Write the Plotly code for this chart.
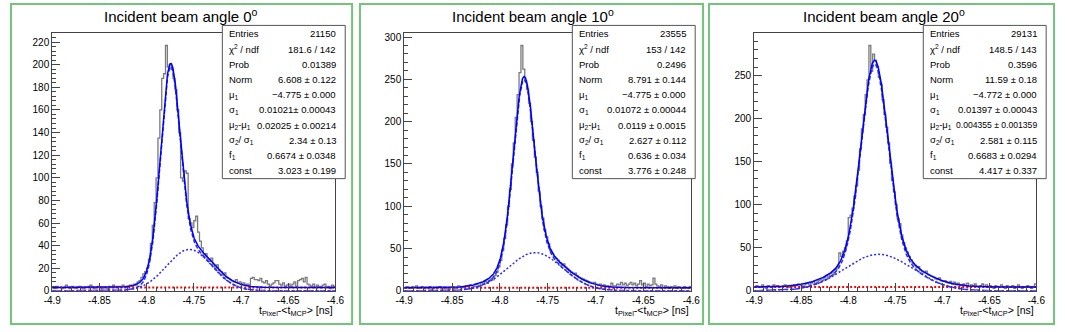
import numpy as np
import plotly.graph_objects as go

# ---------------- data ----------------
panel_titles = ["Incident beam angle 0<sup>o</sup>",
                "Incident beam angle 10<sup>o</sup>",
                "Incident beam angle 20<sup>o</sup>"]

x_low, x_high, n_bins = -4.9, -4.6, 150

counts_0deg = [
    3, 2, 4, 3, 3, 2, 3, 5, 3, 2,
    4, 3, 2, 3, 4, 3, 2, 3, 3, 4,
    5, 3, 2, 3, 4, 3, 2, 3, 3, 2,
    4, 3, 5, 3, 4, 4, 3, 5, 4, 3,
    4, 5, 4, 6, 5, 8, 9, 12, 15, 17,
    20, 28, 42, 58, 78, 100, 135, 160, 188, 192,
    217, 198, 200, 196, 188, 178, 160, 140, 100, 97,
    106, 104, 64, 60, 56, 62, 66, 52, 44, 38,
    30, 33, 28, 26, 29, 23, 20, 23, 18, 17,
    14, 16, 12, 11, 10, 9, 8, 10, 7, 8,
    6, 7, 5, 6, 5, 11, 12, 10, 10, 9,
    11, 8, 7, 9, 6, 4, 6, 7, 9, 9,
    6, 5, 7, 4, 5, 6, 4, 6, 8, 4,
    9, 10, 11, 8, 12, 6, 5, 4, 6, 3,
    5, 4, 3, 5, 6, 3, 4, 2, 5, 4]

counts_10deg = [
    3, 5, 4, 3, 5, 4, 6, 3, 4, 5,
    3, 4, 3, 5, 2, 3, 4, 3, 5, 4,
    3, 4, 3, 2, 4, 5, 3, 4, 6, 5,
    4, 5, 6, 5, 7, 6, 5, 8, 7, 6,
    10, 8, 11, 9, 12, 14, 13, 18, 22, 28,
    36, 48, 62, 78, 100, 120, 150, 175, 205, 232,
    258, 290, 262, 248, 238, 222, 200, 178, 158, 140,
    118, 100, 86, 72, 64, 56, 48, 44, 40, 38,
    36, 33, 30, 32, 28, 26, 24, 22, 20, 21,
    18, 16, 15, 14, 13, 12, 11, 10, 9, 10,
    8, 7, 8, 6, 7, 5, 6, 5, 9, 6,
    6, 8, 7, 10, 7, 9, 6, 8, 10, 7,
    9, 6, 8, 12, 7, 9, 5, 8, 6, 7,
    15, 8, 6, 5, 7, 4, 6, 5, 3, 5,
    4, 6, 3, 5, 4, 3, 5, 4, 3, 5]

counts_20deg = [
    4, 6, 5, 4, 7, 5, 3, 6, 5, 4,
    7, 5, 6, 4, 5, 6, 7, 5, 4, 6,
    5, 7, 6, 8, 7, 6, 5, 8, 9, 7,
    9, 11, 8, 10, 12, 14, 12, 15, 18, 16,
    20, 22, 19, 25, 28, 44, 40, 46, 50, 58,
    85, 88, 96, 110, 122, 140, 165, 188, 205, 228,
    245, 285, 255, 275, 268, 260, 248, 240, 222, 205,
    190, 172, 148, 128, 115, 100, 84, 78, 65, 56,
    50, 45, 40, 36, 32, 30, 27, 28, 24, 22,
    21, 23, 19, 18, 17, 16, 14, 13, 15, 12,
    11, 12, 10, 9, 11, 8, 10, 7, 9, 6,
    7, 8, 6, 9, 5, 7, 6, 8, 5, 4,
    6, 8, 5, 7, 4, 6, 5, 3, 6, 5,
    4, 7, 5, 3, 6, 4, 5, 6, 3, 4,
    7, 5, 3, 4, 5, 6, 4, 3, 5, 8]

# fit parameters (double Gaussian + constant), as printed in the stat boxes
fit_norm = [6.608, 8.791, 11.59]
fit_mu1 = [-4.775, -4.775, -4.772]
fit_sigma1 = [0.01021, 0.01072, 0.01397]
fit_dmu = [0.02025, 0.0119, 0.004355]
fit_ratio = [2.34, 2.627, 2.581]
fit_f1 = [0.6674, 0.636, 0.6683]
fit_const = [3.023, 3.776, 4.417]

stat_labels = ["Entries", "χ<sup>2</sup> / ndf", "Prob", "Norm", "μ<sub>1</sub>",
               "σ<sub>1</sub>", "μ<sub>2</sub>-μ<sub>1</sub>", "σ<sub>2</sub>/ σ<sub>1</sub>",
               "f<sub>1</sub>", "const"]
stat_values_0deg = ["21150", "181.6 / 142", "0.01389", "6.608 ± 0.122", "−4.775 ± 0.000",
                    "0.01021± 0.00043", "0.02025 ± 0.00214", "2.34 ± 0.13",
                    "0.6674 ± 0.0348", "3.023 ± 0.199"]
stat_values_10deg = ["23555", "153 / 142", "0.2496", "8.791 ± 0.144", "−4.775 ± 0.000",
                     "0.01072 ± 0.00044", "0.0119 ± 0.0015", "2.627 ± 0.112",
                     "0.636 ± 0.034", "3.776 ± 0.248"]
stat_values_20deg = ["29131", "148.5 / 143", "0.3596", "11.59 ± 0.18", "−4.772 ± 0.000",
                     "0.01397 ± 0.00043", "0.004355 ± 0.001359", "2.581 ± 0.115",
                     "0.6683 ± 0.0294", "4.417 ± 0.337"]

x_tick_vals = [-4.9, -4.85, -4.8, -4.75, -4.7, -4.65, -4.6]
x_tick_text = ["-4.9", "-4.85", "-4.8", "-4.75", "-4.7", "-4.65", "-4.6"]
y_major_step = [20, 50, 50]
y_minor_step = [4, 10, 10]

all_counts = [counts_0deg, counts_10deg, counts_20deg]
all_stats = [stat_values_0deg, stat_values_10deg, stat_values_20deg]

# ---------------- layout geometry (pixels) ----------------
W, H = 1065, 332
plot_boxes = [(44, 32, 332, 296), (402, 32, 694, 296), (758, 32, 1045, 296)]
green_boxes = [(2, 2, 349, 330), (357, 2, 706, 330), (712, 2, 1063, 330)]
stat_boxes = [(217, 24, 342, 181), (573, 24, 698, 181), (930, 24, 1055, 181)]
title_cx = [175, 533, 890]


def fx(x):
    return x / W


def fy(y):
    return 1 - y / H


FONT = "Liberation Sans, Arial, Helvetica, sans-serif"

fig = go.Figure()
shapes = []
annotations = []

edges = np.linspace(x_low, x_high, n_bins + 1)
xf = np.linspace(x_low, x_high, 901)

for p in range(3):
    ax = "" if p == 0 else str(p + 1)
    xref, yref = "x" + ax, "y" + ax
    counts = all_counts[p]

    # histogram as steps
    yh = list(counts) + [counts[-1]]
    fig.add_trace(go.Scatter(x=edges, y=yh, mode="lines", line_shape="hv",
                             line=dict(color="#7a7a7a", width=1.3),
                             xaxis=xref, yaxis=yref, showlegend=False, hoverinfo="skip"))

    s1 = fit_sigma1[p]
    s2 = s1 * fit_ratio[p]
    m1 = fit_mu1[p]
    m2 = m1 + fit_dmu[p]
    g1 = fit_norm[p] * fit_f1[p] / (np.sqrt(2 * np.pi) * s1) * np.exp(-0.5 * ((xf - m1) / s1) ** 2)
    g2 = fit_norm[p] * (1 - fit_f1[p]) / (np.sqrt(2 * np.pi) * s2) * np.exp(-0.5 * ((xf - m2) / s2) ** 2)
    c = fit_const[p]

    fig.add_trace(go.Scatter(x=xf, y=np.full_like(xf, c), mode="lines",
                             line=dict(color="#ff0000", width=2, dash="2px,2px"),
                             xaxis=xref, yaxis=yref, showlegend=False, hoverinfo="skip"))
    fig.add_trace(go.Scatter(x=xf, y=g2, mode="lines",
                             line=dict(color="#2a2aff", width=1.5, dash="2px,2px"),
                             xaxis=xref, yaxis=yref, showlegend=False, hoverinfo="skip"))
    fig.add_trace(go.Scatter(x=xf, y=g1 + g2, mode="lines",
                             line=dict(color="#2a2aff", width=1.5, dash="4px,2px"),
                             xaxis=xref, yaxis=yref, showlegend=False, hoverinfo="skip"))
    fig.add_trace(go.Scatter(x=xf, y=g1 + g2 + c, mode="lines",
                             line=dict(color="#0000ff", width=1.5),
                             xaxis=xref, yaxis=yref, showlegend=False, hoverinfo="skip"))

    x0, y0, x1, y1 = plot_boxes[p]
    ymax = 1.05 * max(counts)
    fig.layout["xaxis" + ax] = dict(
        domain=[fx(x0), fx(x1)], anchor=yref, range=[x_low, x_high],
        tickmode="array", tickvals=x_tick_vals, ticktext=x_tick_text,
        ticks="inside", ticklen=8, tickcolor="#444", tickwidth=1,
        minor=dict(tickmode="linear", tick0=x_low, dtick=0.01, ticks="inside",
                   ticklen=4, tickcolor="#444", tickwidth=1),
        showline=True, mirror=True, linecolor="#444", linewidth=1,
        showgrid=False, zeroline=False,
        tickfont=dict(family=FONT, size=10, color="black"))
    fig.layout["yaxis" + ax] = dict(
        domain=[fy(y1), fy(y0)], anchor=xref, range=[0, ymax],
        tickmode="linear", tick0=0, dtick=y_major_step[p],
        ticks="inside", ticklen=8, tickcolor="#444", tickwidth=1,
        minor=dict(dtick=y_minor_step[p], ticks="inside", ticklen=4,
                   tickcolor="#444", tickwidth=1),
        showline=True, mirror=True, linecolor="#444", linewidth=1,
        showgrid=False, zeroline=False,
        tickfont=dict(family=FONT, size=10, color="black"))

    # green panel border
    gx0, gy0, gx1, gy1 = green_boxes[p]
    shapes.append(dict(type="rect", xref="paper", yref="paper",
                       x0=fx(gx0), x1=fx(gx1), y0=fy(gy1), y1=fy(gy0),
                       line=dict(color="#72c47a", width=2), fillcolor="rgba(0,0,0,0)",
                       layer="above"))

    # stats box
    sx0, sy0, sx1, sy1 = stat_boxes[p]
    shapes.append(dict(type="rect", xref="paper", yref="paper",
                       x0=fx(sx0), x1=fx(sx1), y0=fy(sy1), y1=fy(sy0),
                       line=dict(color="#555", width=1), fillcolor="white", layer="above"))
    for k in range(10):
        yc = 32.7 + 15.56 * k
        val = all_stats[p][k]
        vsize = 9.5 if len(val) <= 17 else 8.6
        annotations.append(dict(xref="paper", yref="paper", x=fx(sx0 + 5), y=fy(yc),
                                xanchor="left", yanchor="middle", showarrow=False,
                                text=stat_labels[k],
                                font=dict(family=FONT, size=9.5, color="black")))
        annotations.append(dict(xref="paper", yref="paper", x=fx(sx1 - 7), y=fy(yc),
                                xanchor="right", yanchor="middle", showarrow=False,
                                text=val,
                                font=dict(family=FONT, size=vsize, color="black")))

    # title
    annotations.append(dict(xref="paper", yref="paper", x=fx(title_cx[p]), y=fy(14),
                            xanchor="center", yanchor="middle", showarrow=False,
                            text=panel_titles[p],
                            font=dict(family=FONT, size=15, color="black")))
    # x-axis title
    annotations.append(dict(xref="paper", yref="paper", x=fx(x1), y=fy(317),
                            xanchor="right", yanchor="middle", showarrow=False,
                            text="t<sub>Pixel</sub>-&lt;t<sub>MCP</sub>&gt; [ns]",
                            font=dict(family=FONT, size=10.5, color="black")))

fig.update_layout(width=W, height=H, margin=dict(l=0, r=0, t=0, b=0),
                  paper_bgcolor="white", plot_bgcolor="white",
                  shapes=shapes, annotations=annotations, showlegend=False)

fig.write_html("out.html", config={"displayModeBar": False, "staticPlot": True},
               post_script="document.body.style.margin='0px';document.body.style.overflow='hidden';")
